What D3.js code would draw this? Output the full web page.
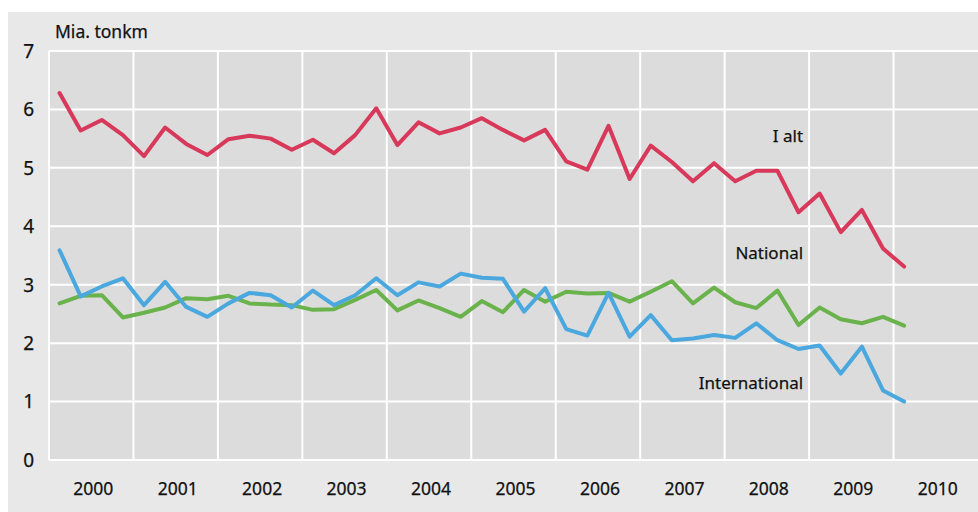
<!DOCTYPE html>
<html lang="da">
<head>
    <meta charset="UTF-8">
    <title>Godstransport</title>
    <script src="https://d3js.org/d3.v7.min.js"></script>
    <style>
        * { margin: 0; padding: 0; box-sizing: border-box; }
        body { background: #fff; }
        svg text { font-family: "Noto Sans", Arial, sans-serif; fill: #111; stroke: #111; stroke-width: 0.25px; }
    </style>
</head>
<body>
    <div id="chart"></div>

    <script>
        // kvartaler 2000K1 - 2010K1
        const years = ["2000", "2001", "2002", "2003", "2004", "2005", "2006", "2007", "2008", "2009", "2010"];
        const yTicks = [0, 1, 2, 3, 4, 5, 6, 7];

        const iAlt = [6.28, 5.64, 5.82, 5.56, 5.20, 5.69, 5.41, 5.22, 5.49, 5.55, 5.50, 5.31, 5.48,
                      5.25, 5.56, 6.02, 5.39, 5.78, 5.59, 5.69, 5.85, 5.65, 5.47, 5.65, 5.11, 4.97,
                      5.72, 4.81, 5.38, 5.10, 4.77, 5.08, 4.77, 4.95, 4.95, 4.24, 4.56, 3.90, 4.28,
                      3.62, 3.31];
        const national = [2.68, 2.81, 2.82, 2.44, 2.52, 2.61, 2.77, 2.75, 2.81, 2.68, 2.66, 2.65, 2.57,
                          2.58, 2.74, 2.91, 2.56, 2.73, 2.60, 2.45, 2.72, 2.53, 2.91, 2.71, 2.88, 2.85,
                          2.86, 2.71, 2.88, 3.06, 2.68, 2.95, 2.70, 2.60, 2.90, 2.31, 2.61, 2.41, 2.34,
                          2.45, 2.30];
        const international = [3.59, 2.80, 2.97, 3.11, 2.65, 3.05, 2.62, 2.45, 2.68, 2.86, 2.82, 2.61, 2.90,
                               2.65, 2.82, 3.11, 2.82, 3.04, 2.97, 3.19, 3.12, 3.10, 2.54, 2.94, 2.24, 2.13,
                               2.86, 2.11, 2.48, 2.05, 2.08, 2.14, 2.09, 2.34, 2.05, 1.90, 1.96, 1.48, 1.94,
                               1.19, 1.00];

        const series = [
            { name: "I alt", values: iAlt, color: "#d8395b" },
            { name: "National", values: national, color: "#6ab24b" },
            { name: "International", values: international, color: "#4aa8df" }
        ];

        const W = 978, H = 512;
        const plot = { left: 49, right: 978, top: 51, bottom: 460 };

        const svg = d3.select("#chart")
            .append("svg")
            .attr("width", W)
            .attr("height", H);

        // ydre baggrund
        svg.append("rect")
            .attr("x", 8).attr("y", 12)
            .attr("width", W - 8).attr("height", H - 12)
            .attr("fill", "#e8e8e8");

        const nQuarters = years.length * 4;
        const x = d3.scaleLinear()
            .domain([-0.5, nQuarters - 0.5])
            .range([plot.left, plot.right]);

        const y = d3.scaleLinear()
            .domain([0, 7])
            .range([plot.bottom, plot.top]);

        svg.append("rect")
            .attr("x", plot.left).attr("y", plot.top)
            .attr("width", plot.right - plot.left)
            .attr("height", plot.bottom - plot.top)
            .attr("fill", "#dcdcdc");

        // gitterlinjer
        svg.append("g")
            .selectAll("line")
            .data(yTicks)
            .join("line")
            .attr("x1", plot.left).attr("x2", plot.right)
            .attr("y1", d => y(d)).attr("y2", d => y(d))
            .attr("stroke", "#fff")
            .attr("stroke-width", 2);

        svg.append("g")
            .selectAll("line")
            .data(d3.range(0, years.length))
            .join("line")
            .attr("x1", d => x(d * 4 - 0.5)).attr("x2", d => x(d * 4 - 0.5))
            .attr("y1", plot.top).attr("y2", plot.bottom)
            .attr("stroke", "#fff")
            .attr("stroke-width", 2);

        // akser
        svg.append("g")
            .selectAll("text")
            .data(yTicks)
            .join("text")
            .attr("x", 34)
            .attr("y", d => y(d))
            .attr("dy", "0.36em")
            .attr("text-anchor", "end")
            .style("font-size", "19px")
            .text(d => d);

        svg.append("g")
            .selectAll("text")
            .data(years)
            .join("text")
            .attr("x", (d, i) => x(i * 4 + 1.5) + 2)
            .attr("y", 489)
            .attr("dy", "0.36em")
            .attr("text-anchor", "middle")
            .style("font-size", "17.5px")
            .text(d => d);

        svg.append("text")
            .attr("x", 55)
            .attr("y", 32)
            .attr("dy", "0.36em")
            .style("font-size", "17.5px")
            .text("Mia. tonkm");

        const line = d3.line()
            .x((d, i) => x(i))
            .y(d => y(d));

        svg.append("g")
            .selectAll("path")
            .data(series)
            .join("path")
            .attr("fill", "none")
            .attr("stroke", d => d.color)
            .attr("stroke-width", 4)
            .attr("stroke-linejoin", "round")
            .attr("stroke-linecap", "round")
            .attr("d", d => line(d.values));

        // serienavne
        const labels = [
            { text: "I alt", value: 5.54 },
            { text: "National", value: 3.54 },
            { text: "International", value: 1.32 }
        ];

        svg.append("g")
            .selectAll("text")
            .data(labels)
            .join("text")
            .attr("x", x(35.5) - 6)
            .attr("y", d => y(d.value))
            .attr("dy", "0.36em")
            .attr("text-anchor", "end")
            .style("font-size", "17px")
            .text(d => d.text);
    </script>
</body>
</html>
